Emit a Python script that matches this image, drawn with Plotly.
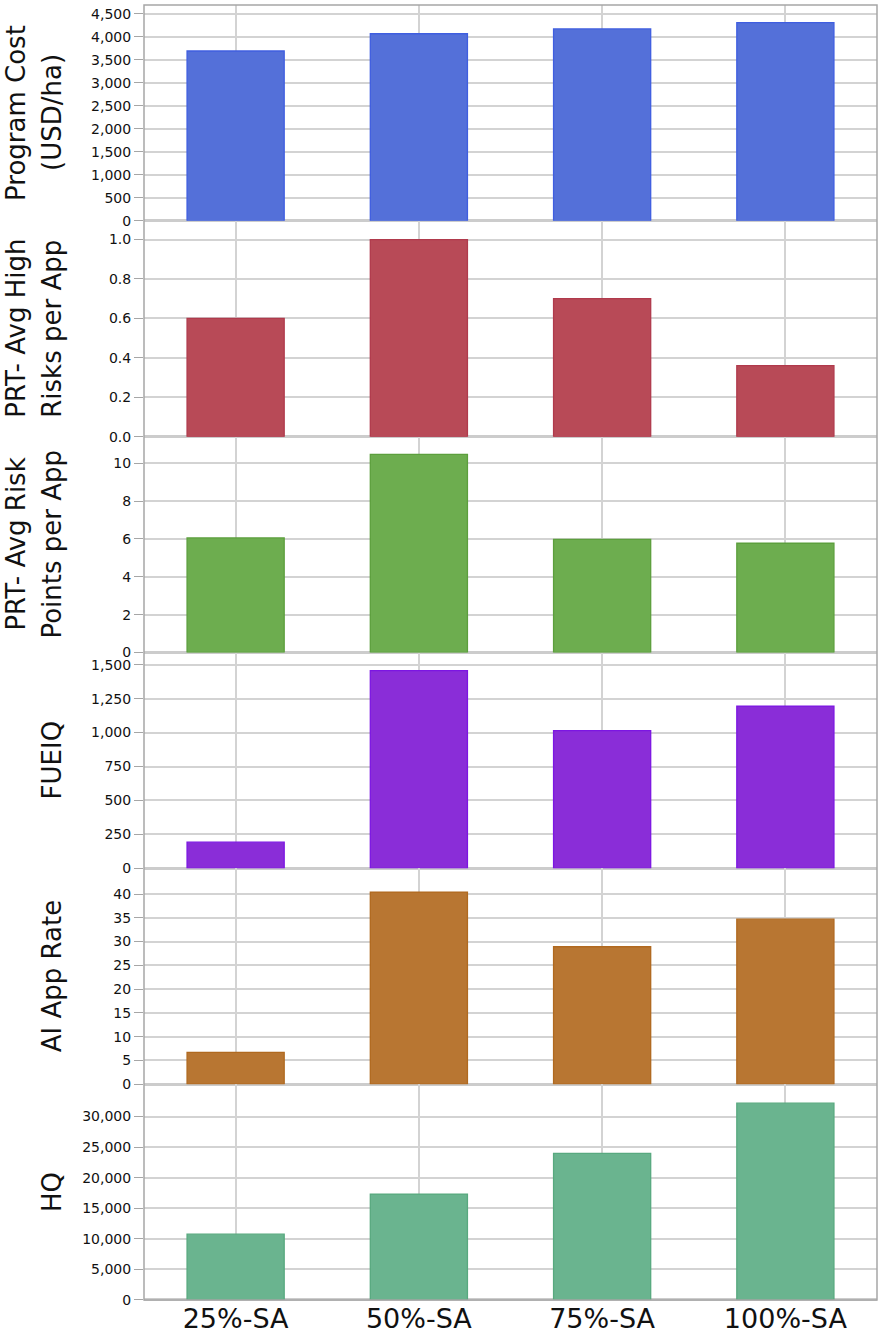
import plotly.graph_objects as go
from plotly.subplots import make_subplots

groups = ['25%-SA', '50%-SA', '75%-SA', '100%-SA']

program_cost = [3690, 4065, 4170, 4305]
high_risks = [0.60, 1.00, 0.70, 0.36]
risk_points = [6.05, 10.47, 5.98, 5.77]
fueiq = [193, 1456, 1015, 1195]
ai_app_rate = [6.7, 40.4, 28.9, 34.7]
hq = [10760, 17320, 23970, 32190]

titles = [
    ['Program Cost', '(USD/ha)'],
    ['PRT- Avg High', 'Risks per App'],
    ['PRT- Avg Risk', 'Points per App'],
    ['FUEIQ'],
    ['AI App Rate'],
    ['HQ'],
]

# per panel: values, fill, edge, y max, tick step, last tick, tickformat
panels = [
    (program_cost, '#5470d9', '#3f5ee0', 4690, 500, 4500, ','),
    (high_risks, '#b84a57', '#b03a4c', 1.095, 0.2, 1.0, '.1f'),
    (risk_points, '#6dad4f', '#5c9f3d', 11.4, 2, 10, ''),
    (fueiq, '#8a2dd8', '#7c16e2', 1590, 250, 1500, ','),
    (ai_app_rate, '#b87632', '#b0691f', 45.4, 5, 40, ''),
    (hq, '#6ab48f', '#58a97f', 35300, 5000, 30000, ','),
]

grid = '#d3d3d3'
frame = '#a6a6a6'
font = 'DejaVu Sans'

fig = make_subplots(rows=6, cols=1, shared_xaxes=True, vertical_spacing=0)

for i, (vals, fill, edge, top, step, last, fmt) in enumerate(panels):
    row = i + 1
    n = int(round(last / step))
    ticks = [round(k * step, 6) for k in range(n + 1)]
    fig.add_trace(go.Bar(x=groups, y=vals, marker_color=fill,
                         marker_line_color=edge, marker_line_width=1.3,
                         showlegend=False), row=row, col=1)
    fig.update_yaxes(range=[0, top], tickvals=ticks, tickformat=fmt,
                     showgrid=True, gridcolor=grid, gridwidth=1.5,
                     zeroline=True, zerolinecolor='#cccccc', zerolinewidth=2.5,
                     showline=False, ticks='outside', ticklen=9,
                     tickcolor=frame, tickwidth=1.2,
                     tickfont=dict(family=font, size=14, color='#111'),
                     row=row, col=1)
    fig.update_xaxes(showgrid=True, gridcolor=grid, gridwidth=1.5,
                     showline=False, ticks='', row=row, col=1)

fig.update_xaxes(tickfont=dict(family=font, size=27, color='#111'), row=6, col=1)

# y titles as annotations so they line up across panels
annots = []
for i, lines in enumerate(titles):
    yref = 'y domain' if i == 0 else 'y%d domain' % (i + 1)
    if len(lines) == 2:
        offs = [-128, -92]
    else:
        offs = [-92]
    for txt, off in zip(lines, offs):
        annots.append(dict(text=txt, x=0, y=0.5, xref='paper', yref=yref,
                           xanchor='center', yanchor='middle', xshift=off,
                           textangle=-90, showarrow=False,
                           font=dict(family=font, size=26, color='#111')))

# outer frame around the stacked panels
fig.add_shape(type='rect', xref='paper', yref='paper', x0=0, x1=1, y0=0, y1=1,
              line=dict(color=frame, width=1.5), layer='above')

fig.update_layout(
    width=883, height=1339,
    margin=dict(l=144, r=6, t=5, b=36),
    bargap=0.47,
    plot_bgcolor='white', paper_bgcolor='white',
    annotations=annots,
)

# drop the default page margin so the figure fills the window
fig.write_html("out.html", config={'displayModeBar': False},
               post_script="document.body.style.margin='0';")
